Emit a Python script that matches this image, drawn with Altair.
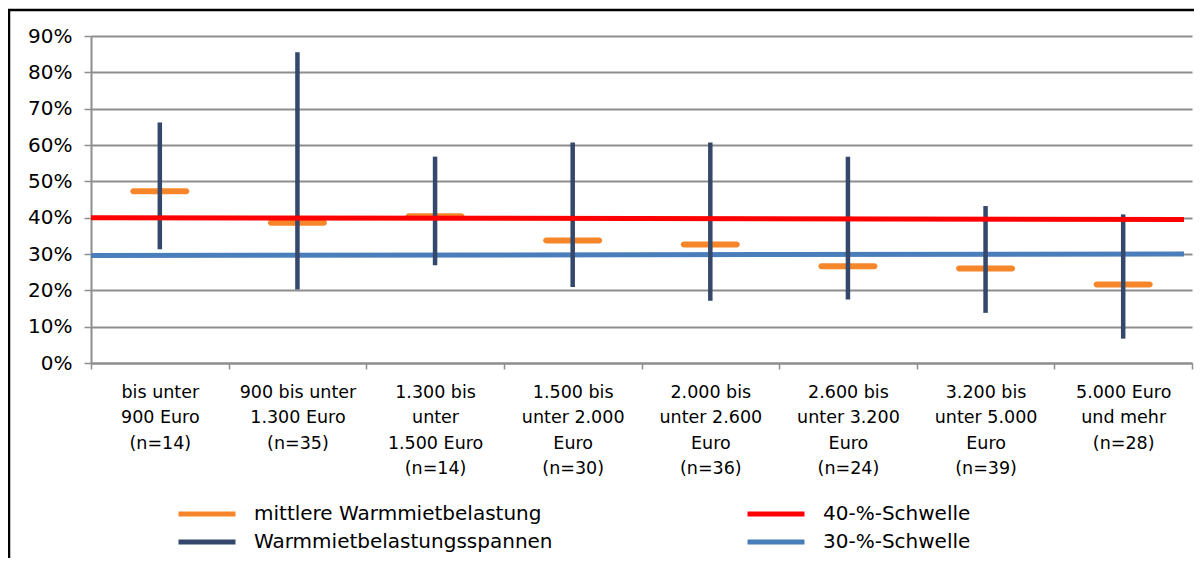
import altair as alt
import pandas as pd

# ---- data ----
categories = [
    "bis unter|900 Euro|(n=14)",
    "900 bis unter|1.300 Euro|(n=35)",
    "1.300 bis|unter|1.500 Euro|(n=14)",
    "1.500 bis|unter 2.000|Euro|(n=30)",
    "2.000 bis|unter 2.600|Euro|(n=36)",
    "2.600 bis|unter 3.200|Euro|(n=24)",
    "3.200 bis|unter 5.000|Euro|(n=39)",
    "5.000 Euro|und mehr|(n=28)",
]
mean_values = [0.473, 0.386, 0.404, 0.337, 0.326, 0.266, 0.260, 0.216]
range_low = [0.313, 0.202, 0.269, 0.209, 0.171, 0.175, 0.138, 0.067]
range_high = [0.662, 0.855, 0.568, 0.607, 0.607, 0.568, 0.432, 0.409]

threshold_names = ["40-%-Schwelle", "30-%-Schwelle"]
threshold_start = [0.400, 0.296]
threshold_end = [0.395, 0.300]

y_ticks = [0.0, 0.1, 0.2, 0.3, 0.4, 0.5, 0.6, 0.7, 0.8, 0.9]

series_mean = "mittlere Warmmietbelastung"
series_range = "Warmmietbelastungsspannen"
# legend is filled column by column: left column, then right column
legend_order = [series_mean, series_range, threshold_names[0], threshold_names[1]]
legend_colors = ["#F7862B", "#35486B", "#FF0000", "#4A7EBB"]

FONT = "DejaVu Sans"
W, H = 1101, 327

df = pd.DataFrame({
    "cat": categories,
    "mean": mean_values,
    "low": range_low,
    "high": range_high,
})

thr = pd.DataFrame({
    "series": threshold_names,
    "start": threshold_start,
    "end": threshold_end,
})

color = alt.Color(
    "series:N",
    scale=alt.Scale(domain=legend_order, range=legend_colors),
    legend=alt.Legend(
        title=None,
        orient="none",
        legendX=106,
        legendY=468,
        columns=2,
        columnPadding=184,
        rowPadding=8,
        symbolType="M-4,0H4",
        symbolStrokeWidth=5,
        symbolSize=203,
        labelFont=FONT,
        labelFontSize=20,
        labelColor="#000000",
        labelOffset=37,
        labelLimit=450,
        gridAlign="all",
    ),
)

xenc = alt.X(
    "cat:N",
    sort=categories,
    scale=alt.Scale(paddingInner=0, paddingOuter=0),
    axis=alt.Axis(
        title=None,
        labelAngle=0,
        labelExpr="split(datum.label, '|')",
        labelFont=FONT,
        labelFontSize=17.5,
        labelColor="#000000",
        labelLineHeight=25.5,
        labelPadding=14,
        labelLimit=200,
        tickBand="extent",
        tickSize=6,
        tickColor="#8E8E8E",
        tickWidth=1.5,
        domainColor="#8E8E8E",
        domainWidth=2,
        grid=False,
    ),
)

yscale = alt.Scale(domain=[0, 0.9], nice=False)
yaxis = alt.Axis(
    title=None,
    values=y_ticks,
    format=".0%",
    labelFont=FONT,
    labelFontSize=20,
    labelColor="#000000",
    labelPadding=12,
    tickSize=7,
    tickColor="#8E8E8E",
    tickWidth=1.5,
    domainColor="#8E8E8E",
    domainWidth=2,
    grid=True,
    gridColor="#8E8E8E",
    gridWidth=2,
)

base = alt.Chart(df)

axes_layer = base.mark_tick(opacity=0).encode(
    x=xenc,
    y=alt.Y("mean:Q", scale=yscale, axis=yaxis),
)

blue_layer = alt.Chart(thr).transform_filter(
    alt.datum.series == threshold_names[1]
).mark_rule(strokeWidth=5, opacity=1).encode(
    x=alt.value(0), x2=alt.value(W - 8),
    y=alt.Y("start:Q", scale=yscale, axis=yaxis), y2="end:Q",
    color=color,
)

mean_layer = base.transform_calculate(series=f"'{series_mean}'").mark_tick(
    thickness=6, size=59, cornerRadius=3, opacity=1
).encode(
    x=alt.X("cat:N", sort=categories),
    y=alt.Y("mean:Q", scale=yscale, axis=yaxis),
    color=color,
)

range_layer = base.transform_calculate(series=f"'{series_range}'").mark_rule(
    strokeWidth=4.5, opacity=1
).encode(
    x=alt.X("cat:N", sort=categories),
    y=alt.Y("low:Q", scale=yscale, axis=yaxis),
    y2="high:Q",
    color=color,
)

red_layer = alt.Chart(thr).transform_filter(
    alt.datum.series == threshold_names[0]
).mark_rule(strokeWidth=5, opacity=1).encode(
    x=alt.value(0), x2=alt.value(W - 8),
    y=alt.Y("start:Q", scale=yscale, axis=yaxis), y2="end:Q",
    color=color,
)

one = pd.DataFrame({"k": [0]})
frame_left = alt.Chart(one).mark_rule(color="#000000", strokeWidth=2.5).encode(
    x=alt.value(-82), x2=alt.value(-82), y=alt.value(-26), y2=alt.value(H + 200)
)
frame_top = alt.Chart(one).mark_rule(color="#000000", strokeWidth=2.5).encode(
    x=alt.value(-83), x2=alt.value(W + 10), y=alt.value(-26), y2=alt.value(-26)
)

chart = alt.layer(
    axes_layer, blue_layer, mean_layer, range_layer, red_layer, frame_left, frame_top
).properties(
    width=W,
    height=H,
    autosize=alt.AutoSizeParams(type="none"),
    padding={"left": 83, "top": 28, "right": 2, "bottom": 195},
    background="#ffffff",
).configure_view(stroke=None)

chart.save("out.html", embed_options={"renderer": "svg", "actions": False})
